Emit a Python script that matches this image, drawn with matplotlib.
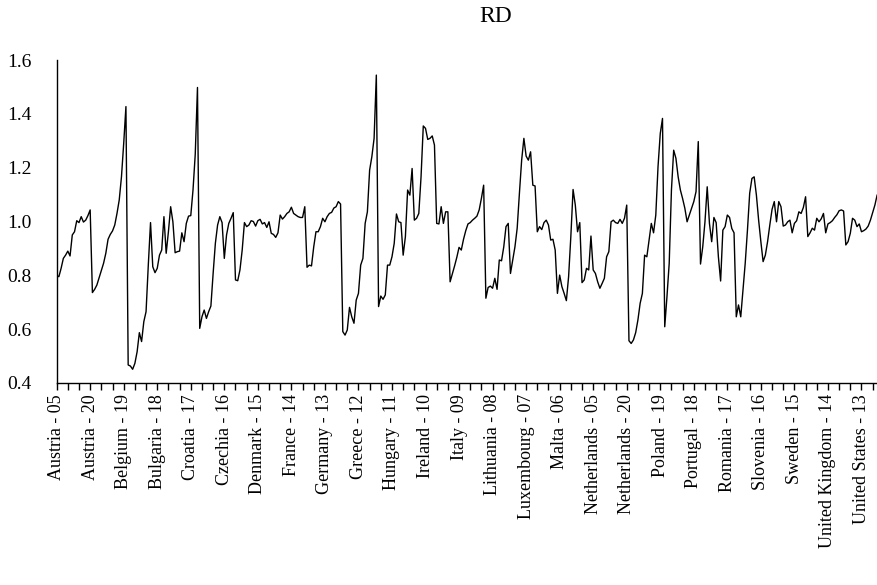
import matplotlib
matplotlib.use("Agg")
import matplotlib.pyplot as plt
from matplotlib.ticker import FixedLocator, NullFormatter

plt.rcParams['font.family'] = ['Liberation Serif', 'DejaVu Serif']

countries = ["Austria", "Belgium", "Bulgaria", "Croatia", "Czechia", "Denmark",
             "France", "Germany", "Greece", "Hungary", "Ireland", "Italy",
             "Lithuania", "Luxembourg", "Malta", "Netherlands", "Poland",
             "Portugal", "Romania", "Slovenia", "Sweden", "United Kingdom",
             "United States"]
years = list(range(2005, 2021))

rd_austria = [0.800, 0.795, 0.826, 0.863, 0.875, 0.890, 0.872, 0.950, 0.962, 1.003, 0.996, 1.018, 0.998, 1.005, 1.022, 1.043]
rd_belgium = [0.736, 0.748, 0.764, 0.791, 0.817, 0.845, 0.882, 0.934, 0.952, 0.965, 0.987, 1.030, 1.080, 1.166, 1.290, 1.427]
rd_bulgaria = [0.467, 0.463, 0.451, 0.473, 0.516, 0.587, 0.554, 0.628, 0.665, 0.838, 0.996, 0.832, 0.810, 0.826, 0.875, 0.894]
rd_croatia = [1.018, 0.882, 0.962, 1.055, 0.999, 0.884, 0.888, 0.890, 0.958, 0.925, 0.993, 1.020, 1.022, 1.117, 1.250, 1.498]
rd_czechia = [0.603, 0.646, 0.671, 0.640, 0.665, 0.686, 0.807, 0.919, 0.987, 1.018, 0.996, 0.863, 0.950, 0.993, 1.012, 1.033]
rd_denmark = [0.783, 0.780, 0.820, 0.894, 0.996, 0.981, 0.987, 1.003, 1.000, 0.983, 1.003, 1.008, 0.991, 0.996, 0.978, 0.999]
rd_france = [0.956, 0.952, 0.941, 0.958, 1.024, 1.009, 1.018, 1.030, 1.036, 1.053, 1.030, 1.024, 1.018, 1.015, 1.015, 1.055]
rd_germany = [0.830, 0.838, 0.835, 0.906, 0.962, 0.962, 0.981, 1.012, 0.999, 1.018, 1.030, 1.034, 1.050, 1.055, 1.074, 1.065]
rd_greece = [0.591, 0.578, 0.597, 0.681, 0.646, 0.622, 0.708, 0.733, 0.838, 0.863, 0.993, 1.036, 1.191, 1.241, 1.309, 1.544]
rd_hungary = [0.684, 0.723, 0.711, 0.727, 0.838, 0.838, 0.869, 0.919, 1.028, 0.999, 0.996, 0.875, 0.944, 1.117, 1.098, 1.197]
rd_ireland = [1.005, 1.012, 1.030, 1.166, 1.355, 1.346, 1.305, 1.309, 1.318, 1.284, 0.993, 0.991, 1.055, 0.993, 1.036, 1.036]
rd_italy = [0.776, 0.805, 0.835, 0.867, 0.904, 0.894, 0.934, 0.966, 0.991, 0.996, 1.005, 1.012, 1.020, 1.043, 1.086, 1.135]
rd_lithuania = [0.715, 0.755, 0.760, 0.752, 0.789, 0.748, 0.857, 0.854, 0.906, 0.981, 0.993, 0.807, 0.857, 0.906, 0.975, 1.105]
rd_luxembourg = [1.228, 1.309, 1.243, 1.228, 1.259, 1.135, 1.132, 0.962, 0.981, 0.970, 0.996, 1.005, 0.987, 0.931, 0.934, 0.894]
rd_malta = [0.733, 0.801, 0.758, 0.733, 0.706, 0.795, 0.944, 1.119, 1.061, 0.962, 0.996, 0.773, 0.783, 0.826, 0.820, 0.946]
rd_netherlands = [0.820, 0.807, 0.776, 0.752, 0.770, 0.789, 0.869, 0.888, 0.999, 1.005, 0.996, 0.993, 1.008, 0.993, 1.012, 1.061]
rd_poland = [0.557, 0.547, 0.560, 0.587, 0.634, 0.696, 0.733, 0.875, 0.869, 0.931, 0.993, 0.958, 1.024, 1.204, 1.327, 1.383]
rd_portugal = [0.609, 0.721, 0.845, 1.117, 1.265, 1.235, 1.166, 1.117, 1.085, 1.049, 0.999, 1.024, 1.049, 1.074, 1.111, 1.297]
rd_romania = [0.842, 0.906, 0.999, 1.129, 0.993, 0.925, 1.015, 0.996, 0.869, 0.779, 0.968, 0.981, 1.024, 1.015, 0.974, 0.958]
rd_slovenia = [0.646, 0.690, 0.646, 0.745, 0.845, 0.968, 1.105, 1.160, 1.166, 1.098, 1.005, 0.925, 0.851, 0.875, 0.925, 0.987]
rd_sweden = [1.045, 1.074, 0.999, 1.074, 1.055, 0.983, 0.987, 0.999, 1.005, 0.958, 0.993, 1.003, 1.036, 1.030, 1.052, 1.092]
rd_uk = [0.944, 0.958, 0.975, 0.968, 1.012, 0.999, 1.010, 1.030, 0.958, 0.991, 0.996, 1.003, 1.015, 1.025, 1.040, 1.043]
rd_us = [1.039, 0.913, 0.925, 0.956, 1.012, 1.005, 0.981, 0.991, 0.962, 0.966, 0.972, 0.983, 1.005, 1.033, 1.061, 1.098]

series = [rd_austria, rd_belgium, rd_bulgaria, rd_croatia, rd_czechia, rd_denmark,
          rd_france, rd_germany, rd_greece, rd_hungary, rd_ireland, rd_italy,
          rd_lithuania, rd_luxembourg, rd_malta, rd_netherlands, rd_poland,
          rd_portugal, rd_romania, rd_slovenia, rd_sweden, rd_uk, rd_us]

values = [v for s in series for v in s]
obs_labels = [f"{c} - {y % 100:02d}" for c in countries for y in years]
x = list(range(len(values)))

fig = plt.figure(figsize=(8.78, 5.85), dpi=100)
ax = fig.add_axes([0.0645, 0.3453, 0.9345, 0.5521])
ax.plot(x, values, color="black", linewidth=1.0)

ax.set_xlim(0, len(values) - 1)
ax.set_ylim(0.4, 1.6)
ax.set_yticks([0.4, 0.6, 0.8, 1.0, 1.2, 1.4, 1.6])
ax.set_yticklabels(["0.4", "0.6", "0.8", "1.0", "1.2", "1.4", "1.6"])

major = list(range(0, len(values), 15))
ax.xaxis.set_major_locator(FixedLocator(major))
ax.set_xticklabels([obs_labels[i] for i in major], rotation=90)
ax.xaxis.set_minor_locator(FixedLocator([i for i in range(0, len(values), 5) if i % 15 != 0]))
ax.xaxis.set_minor_formatter(NullFormatter())

for side in ["top", "right"]:
    ax.spines[side].set_visible(False)
for side in ["left", "bottom"]:
    ax.spines[side].set_linewidth(1.0)

ax.tick_params(axis="both", which="both", direction="out", length=5, width=1.0,
               colors="black")
ax.tick_params(axis="x", which="both", labelsize=13, pad=3)
ax.tick_params(axis="y", labelsize=14, length=0, pad=18)

fig.text(0.5645, 0.972, "RD", ha="center", va="center", fontsize=17)

fig.savefig("out.png", dpi=100)
